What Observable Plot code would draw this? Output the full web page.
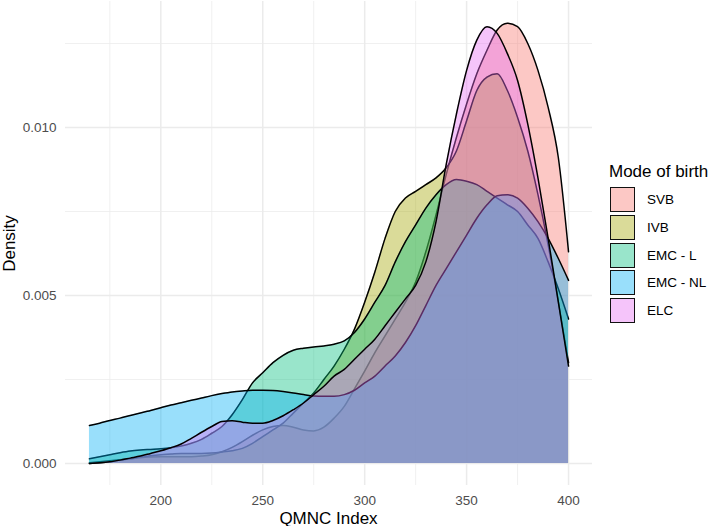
<!DOCTYPE html>
<html><head><meta charset="utf-8">
<script src="https://cdn.jsdelivr.net/npm/d3@7"></script>
<script src="https://cdn.jsdelivr.net/npm/@observablehq/plot@0.6"></script>
<style>
body{margin:0;background:#fff;font-family:"Liberation Sans",Arial,sans-serif;}
#wrap{position:relative;width:709px;height:526px;overflow:hidden;}
#wrap svg{position:absolute;left:0;top:0;}
.t{position:absolute;color:#000;font-size:17px;line-height:17px;white-space:nowrap;}
.key{position:absolute;width:25px;height:25px;box-sizing:border-box;border:1.5px solid #111;}
.lab{position:absolute;font-size:13.5px;line-height:25px;color:#000;white-space:nowrap;}
</style></head><body><div id="wrap"></div>
<script>
const categories = ["SVB", "IVB", "EMC - L", "EMC - NL", "ELC"];
const colors = ["#F8766D", "#A3A500", "#00BF7D", "#00B0F6", "#E76BF3"];
const xs = [165,170,175,180,185,190,195,200,205,210,215,220,225,230,235,240,245,250,255,260,265,270,275,280,285,290,295,300,305,310,315,320,325,330,335,340,345,350,355,360,365,370,375,380,385,390,395,400];
const svb = [0.00002,0.00005,0.00008,0.00011,0.00014,0.00017,0.00019,0.0002,0.0002,0.0002,0.0002,0.00022,0.00026,0.00035,0.00048,0.00065,0.00084,0.001,0.0011,0.00113,0.00108,0.001,0.00097,0.00108,0.00135,0.0017,0.00222,0.00275,0.0033,0.0038,0.0043,0.0048,0.0054,0.0063,0.0074,0.0086,0.0097,0.0107,0.0116,0.0123,0.0129,0.0131,0.013,0.0125,0.0117,0.0106,0.0091,0.0063];
const ivb = [0,0.00002,0.00005,0.0001,0.00014,0.00019,0.00023,0.00026,0.00028,0.0003,0.0003,0.0003,0.00031,0.00034,0.00038,0.00045,0.0006,0.0008,0.001,0.0012,0.0015,0.0018,0.0021,0.0025,0.0029,0.0034,0.004,0.0048,0.0057,0.0067,0.0075,0.0079,0.0081,0.0083,0.0085,0.0088,0.0093,0.0102,0.0111,0.0115,0.0116,0.0111,0.0103,0.0093,0.008,0.0065,0.0048,0.003];
const emcL = [0.00014,0.0002,0.00026,0.00032,0.00037,0.0004,0.00042,0.00044,0.00047,0.00052,0.0006,0.00072,0.0009,0.0011,0.00145,0.0019,0.0024,0.0027,0.003,0.00322,0.00337,0.00343,0.00347,0.0035,0.00355,0.00365,0.0039,0.0043,0.0048,0.0053,0.006,0.0066,0.0071,0.0076,0.008,0.0083,0.00845,0.0084,0.0083,0.0081,0.0079,0.0077,0.0075,0.0071,0.0067,0.006,0.0052,0.0043];
const emcNL = [0.00113,0.0012,0.00128,0.00135,0.00143,0.0015,0.00158,0.00166,0.00174,0.00181,0.00188,0.00195,0.00202,0.00208,0.00213,0.00216,0.00218,0.00218,0.00217,0.00214,0.0021,0.00205,0.00201,0.002,0.002,0.00205,0.00218,0.0024,0.0026,0.0029,0.0032,0.0036,0.0041,0.0047,0.0053,0.0058,0.0063,0.0068,0.0073,0.0077,0.00797,0.008,0.0079,0.0076,0.0072,0.0067,0.0061,0.00545];
const elc = [0,0.00002,0.00005,0.0001,0.00016,0.00022,0.0003,0.00038,0.00047,0.00058,0.00075,0.00093,0.0011,0.00125,0.00127,0.00123,0.0012,0.0012,0.00128,0.00142,0.0016,0.0018,0.00205,0.0023,0.0026,0.0028,0.0031,0.0034,0.0037,0.0041,0.0045,0.0049,0.0053,0.006,0.0072,0.0089,0.0104,0.0117,0.0126,0.013,0.0128,0.0122,0.0114,0.0101,0.0085,0.0067,0.0048,0.0029];
const xMajor = [200, 250, 300, 350, 400];
const xMinor = [175, 225, 275, 325, 375];
const yMajor = [0, 0.005, 0.010];
const yMinor = [0.0025, 0.0075, 0.0125];

const series = [svb, ivb, emcL, emcNL, elc];
const tables = categories.map((c, i) => xs.map((x, j) => ({x, y: series[i][j], group: c})));

const marks = [
  Plot.gridX(xMinor, {stroke: "#ebebeb", strokeOpacity: 1, strokeWidth: 0.75}),
  Plot.gridY(yMinor, {stroke: "#ebebeb", strokeOpacity: 1, strokeWidth: 0.75}),
  Plot.gridX(xMajor, {stroke: "#ebebeb", strokeOpacity: 1, strokeWidth: 1.5}),
  Plot.gridY(yMajor, {stroke: "#ebebeb", strokeOpacity: 1, strokeWidth: 1.5})
];
tables.forEach((t, i) => {
  marks.push(Plot.areaY(t, {x: "x", y: "y", fill: colors[i], fillOpacity: 0.4, curve: "monotone-x"}));
  marks.push(Plot.lineY(t, {x: "x", y: "y", stroke: "#000", strokeWidth: 1.5, curve: "monotone-x"}));
});
marks.push(Plot.axisX(xMajor, {tickSize: 0, tickPadding: 10, fontSize: 13.5, color: "#4d4d4d", label: null}));
marks.push(Plot.axisY(yMajor, {tickSize: 0, tickPadding: 9, fontSize: 13.5, color: "#4d4d4d", label: null, tickFormat: d3.format(".3f")}));

const chart = Plot.plot({
  width: 709, height: 526,
  marginLeft: 65, marginRight: 117, marginTop: 1, marginBottom: 41,
  x: {domain: [153.25, 411.75]},
  y: {domain: [-0.000655, 0.01375]},
  style: {fontFamily: "'Liberation Sans', Arial, sans-serif", background: "#fff", overflow: "visible"},
  marks
});
const wrap = document.getElementById("wrap");
wrap.appendChild(chart);

function addText(cls, text, css) {
  const d = document.createElement("div");
  d.className = cls; d.textContent = text;
  Object.assign(d.style, css);
  wrap.appendChild(d);
  return d;
}
addText("t", "QMNC Index", {left: "228.5px", width: "200px", textAlign: "center", top: "509.5px"});
addText("t", "Density", {left: "-91px", width: "200px", textAlign: "center", top: "234.5px", transform: "rotate(-90deg)"});
addText("t", "Mode of birth", {left: "609px", top: "162.5px"});
categories.forEach((c, i) => {
  const top = 187 + i * 27.75;
  const k = document.createElement("div");
  k.className = "key";
  k.style.left = "610px"; k.style.top = top + "px";
  const col = d3.color(colors[i]); col.opacity = 0.4;
  k.style.background = col.formatRgb();
  wrap.appendChild(k);
  addText("lab", c, {left: "647px", top: top + "px"});
});
</script></body></html>
